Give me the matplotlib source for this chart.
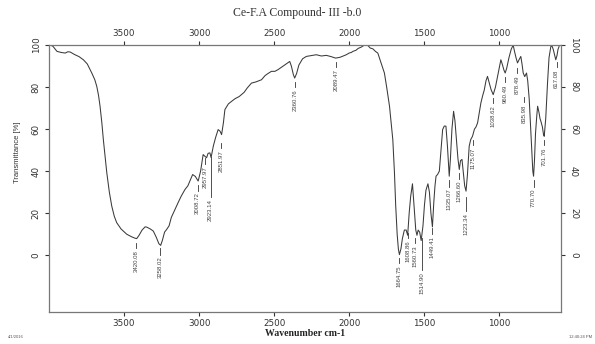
import numpy as np
import matplotlib.pyplot as plt

# spectrum (wavenumber cm-1, transmittance %)
wn = [3995, 3975, 3947, 3920, 3892, 3875, 3859, 3830, 3800, 3771, 3745, 3715, 3695, 3682,
      3670, 3660, 3648, 3638, 3625, 3615, 3598, 3582, 3565, 3549, 3520, 3482, 3450, 3430,
      3416, 3400, 3380, 3360, 3349, 3325, 3305, 3285, 3268, 3256, 3245, 3230, 3216, 3200,
      3185, 3161, 3140, 3120, 3094, 3075, 3060, 3043, 3025, 3006, 2990, 2973, 2960, 2950,
      2940, 2928, 2920, 2905, 2890, 2873, 2860, 2850, 2838, 2828, 2805, 2784, 2760, 2733,
      2700, 2680, 2651, 2620, 2584, 2560, 2540, 2518, 2495, 2474, 2450, 2420, 2396, 2385,
      2372, 2363, 2350, 2335, 2310, 2285, 2250, 2219, 2185, 2152, 2120, 2090, 2060, 2040,
      2019, 2000, 1985, 1975, 1955, 1940, 1920, 1898, 1875, 1860, 1842, 1825, 1809, 1798,
      1780, 1765, 1750, 1731, 1720, 1709, 1698, 1690, 1680, 1672, 1665, 1655, 1645, 1632,
      1620, 1610, 1600, 1590, 1578, 1568, 1556, 1548, 1540, 1530, 1520, 1508, 1498, 1488,
      1475, 1465, 1455, 1445, 1436, 1428, 1421, 1410, 1399, 1388, 1377, 1366, 1355, 1345,
      1333, 1325, 1315, 1304, 1295, 1285, 1275, 1266, 1258, 1248, 1240, 1230, 1221, 1212,
      1200, 1190, 1178, 1165, 1155, 1144, 1135, 1122, 1110, 1100, 1088, 1078, 1068, 1055,
      1040, 1025, 1010, 998, 989, 980, 968, 960, 950, 935, 920, 907, 898, 888, 878, 868,
      856, 848, 840, 830, 818, 810, 800, 790, 782, 776, 771, 765, 758, 750, 744, 735, 728,
      722, 712, 705, 700, 690, 678, 668, 656, 648, 640, 630, 623, 615, 608, 601]
trans = [100, 99.5, 97, 96.5, 96.2, 96.8, 96.7, 95.5, 94.5, 93, 91, 86.7, 83.5, 80.4,
         76, 70.9, 63, 55, 46, 39.2, 30, 23.4, 18.5, 15.5, 12.5, 10, 8.8, 8.2,
         7.9, 9.5, 12, 13.5, 13.4, 12.5, 11.5, 8.5, 5.5, 4.7, 7, 11, 12.3, 14,
         18, 21.8, 25, 28, 31.3, 33, 35.5, 38.4, 37.5, 35.3, 40, 47.9, 47, 46.4,
         48.5, 48.7, 46.5, 52, 56, 59.8, 59, 57.4, 63, 69.3, 72, 73.2, 74.5, 75.5,
         77.5, 79.5, 81.9, 82.5, 83.5, 85.5, 86.5, 87.5, 87.5, 88.3, 89.5, 91, 92.2, 90,
         86, 84.3, 86.5, 90.5, 93.5, 94.6, 95, 95.4, 94.8, 95.1, 94.5, 93.8, 94.2, 94.8,
         95.4, 96.2, 96.5, 97, 97.5, 98.4, 99, 100, 99.8, 98.6, 98.2, 97, 96.2, 93.8,
         90, 86.7, 80, 70.9, 63, 55, 39.2, 24, 10, 3, 0.3, 3, 8, 12,
         12, 9.5, 20, 28, 34, 24, 12, 9.5, 12, 11, 7, 14, 24, 31,
         34, 30, 20, 13.5, 25, 33, 37.6, 38.5, 40, 50, 59.8, 61.5, 61.4, 52,
         37.6, 46, 60, 68.5, 64, 55, 46, 40.8, 45, 45.6, 40, 33, 30.5, 38,
         51.9, 55, 56.6, 60, 61, 63, 67, 72.5, 76, 78.5, 83, 85.1, 82.5, 79,
         76.4, 80, 85.5, 90, 93, 91, 88, 86.7, 89, 94, 98, 100, 97, 94, 91.5, 93,
         94.6, 91, 86.7, 85, 86.7, 83, 74.3, 60, 48, 40, 37.6, 45, 58, 66, 70.9, 68, 65,
         63.7, 61, 57.5, 56.6, 65, 82, 94, 99.3, 99.5, 98, 95, 93, 95, 98, 99.3]

# peak labels and where their marker line starts (transmittance)
peak_labels = ['3420.08', '3258.02', '3008.72', '2957.97', '2923.14', '2851.97',
               '2360.76', '2089.47', '1664.75', '1608.86', '1560.73', '1514.90',
               '1449.41', '1335.07', '1266.60', '1223.34', '1175.07', '1038.62',
               '960.49', '878.49', '835.98', '770.70', '701.76', '617.08']
peak_top = [5.9, 3.3, 33.3, 46.2, 46.7, 53.3, 82.5, 92, -1.4, 10.5, 8.1, 8.1,
            12.8, 35.7, 39, 27.6, 54.8, 74.8, 84.8, 89, 75.2, 35.7, 54.8, 91.9]
line_len = [2.5, 3, 2.5, 3, 19, 2.5, 2.5, 2.5, 2.5, 2.5, 2.5, 15,
            2.5, 3, 2.5, 6.5, 2.5, 2.5, 2.5, 2.5, 2.5, 3, 2.5, 2.5]

fig = plt.figure(figsize=(5.95, 3.44), dpi=100)
ax = fig.add_axes([0.0824, 0.093, 0.86, 0.776])

ax.plot(wn, trans, color='#3a3a3a', lw=0.75)

for lab, top, ln in zip(peak_labels, peak_top, line_len):
    x = float(lab)
    ax.plot([x, x], [top, top - ln], color='#333333', lw=0.6)
    ax.text(x, top - ln - 1.0, lab, rotation=90, ha='center', va='top',
            fontsize=4.3, color='#444444', family='Liberation Sans')

ax.set_xlim(4000, 590)
ax.set_ylim(-27, 100)
ax.set_xticks([3500, 3000, 2500, 2000, 1500, 1000])
ax.set_yticks([0, 20, 40, 60, 80, 100])
ax.tick_params(axis='x', top=True, labeltop=True, direction='out', length=3,
               labelsize=6.3, colors='#333333', pad=2)
ax.tick_params(axis='y', right=True, labelright=True, direction='out', length=3,
               labelsize=6.3, colors='#333333', pad=3)
for t in ax.yaxis.get_major_ticks():
    t.label1.set_rotation(90)
    t.label1.set_va('center')
    t.label2.set_rotation(270)
    t.label2.set_va('center')
for sp in ax.spines.values():
    sp.set_color('#777777')
    sp.set_linewidth(0.9)

ax.set_ylabel('Transmittance [%]', fontsize=5.5, family='Liberation Sans', color='#333333')
ax.yaxis.set_label_coords(-0.055, 0.6)
ax.set_xlabel('Wavenumber cm-1', fontsize=7, family='Liberation Serif',
              fontweight='bold', color='#222222', labelpad=1)

fig.text(0.5, 0.962, 'Ce-F.A Compound- III -b.0', ha='center', va='center',
         fontsize=8.5, family='Liberation Serif', color='#333333')
fig.text(0.013, 0.018, '4/1/2016', fontsize=3, color='#555555', family='Liberation Sans')
fig.text(0.995, 0.018, '12:40:24 PM', fontsize=3, color='#555555', ha='right',
         family='Liberation Sans')

fig.savefig('out.png', dpi=100)
